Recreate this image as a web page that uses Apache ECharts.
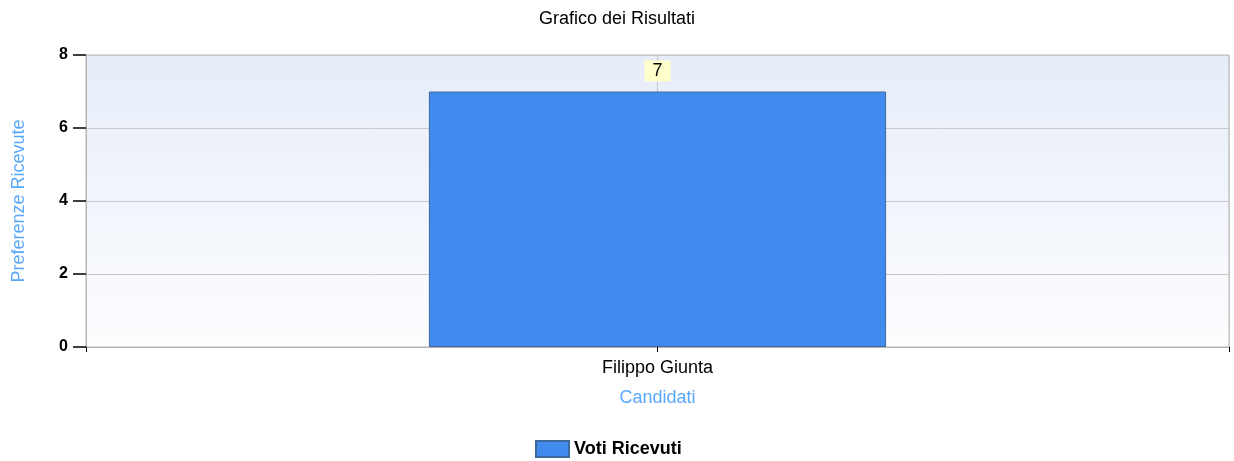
<!DOCTYPE html>
<html>
<head>
<meta charset="utf-8">
<script src="https://cdn.jsdelivr.net/npm/echarts@6/dist/echarts.min.js"></script>
<style>
  html, body { margin: 0; padding: 0; background: #fff; }
  #chart { width: 1234px; height: 461px; }
</style>
</head>
<body>
<div id="chart"></div>
<script>
    const categories = ['Filippo Giunta']
    const votes = [7]
    const yTicks = [0, 2, 4, 6, 8]

    const font = '"Liberation Sans", Arial, sans-serif'
    const chart = echarts.init(document.getElementById('chart'))

    const option = {
        animation: false,
        textStyle: { fontFamily: font },
        title: {
            text: 'Grafico dei Risultati',
            left: 'center',
            top: 5,
            textStyle: { fontSize: 18, fontWeight: 'normal', color: '#000', fontFamily: font }
        },
        grid: {
            left: 86,
            right: 5,
            top: 55,
            bottom: 114,
            show: true,
            borderColor: '#b4b4b4',
            borderWidth: 1,
            backgroundColor: new echarts.graphic.LinearGradient(0, 0, 0, 1, [
                { offset: 0, color: '#e6edf8' },
                { offset: 1, color: '#fdfdff' }
            ])
        },
        legend: {
            top: 435,
            left: 530,
            icon: 'rect',
            itemWidth: 33,
            itemHeight: 16,
            itemGap: 8,
            textStyle: { fontSize: 18, fontWeight: 'bold', color: '#000', fontFamily: font },
            data: ['Voti Ricevuti']
        },
        xAxis: [{
            type: 'category',
            data: categories,
            name: 'Candidati',
            nameLocation: 'middle',
            nameGap: 42,
            nameTextStyle: { color: '#5aa8fa', fontSize: 18, fontFamily: font },
            axisLine: { show: true, lineStyle: { color: '#b4b4b4', width: 1 } },
            axisTick: { show: false },
            axisLabel: { color: '#000', fontSize: 18, margin: 12, fontFamily: font },
            splitLine: { show: false }
        }, {
            // helper axis: ticks at the edges and the center, center grid line
            type: 'value',
            position: 'bottom',
            min: 0,
            max: 2,
            interval: 1,
            axisLine: { show: false },
            axisLabel: { show: false },
            axisTick: { show: true, inside: false, length: 5, lineStyle: { color: '#000' } },
            splitLine: { show: true, lineStyle: { color: '#c8c8c8' } }
        }],
        yAxis: {
            type: 'value',
            min: yTicks[0],
            max: yTicks[yTicks.length - 1],
            interval: 2,
            name: 'Preferenze Ricevute',
            nameLocation: 'middle',
            nameGap: 58,
            nameTextStyle: { color: '#5aa8fa', fontSize: 18, fontFamily: font },
            axisLine: { show: true, lineStyle: { color: '#b4b4b4' } },
            axisTick: { show: true, length: 13, lineStyle: { color: '#000', width: 1.5 } },
            axisLabel: { color: '#000', fontSize: 16, fontWeight: 'bold', margin: 18, fontFamily: font },
            splitLine: { show: true, lineStyle: { color: '#c8c8c8' } }
        },
        series: [{
            name: 'Voti Ricevuti',
            type: 'bar',
            xAxisIndex: 0,
            data: votes,
            barWidth: '40%',
            itemStyle: {
                color: '#418bef',
                borderColor: '#3f6a9e',
                borderWidth: 1
            },
            label: {
                show: true,
                position: 'top',
                distance: 10,
                color: '#000',
                fontSize: 18,
                fontFamily: font,
                backgroundColor: '#ffffcc',
                padding: [2, 8, 1, 8]
            }
        }]
    }
    chart.setOption(option)
</script>
</body>
</html>
